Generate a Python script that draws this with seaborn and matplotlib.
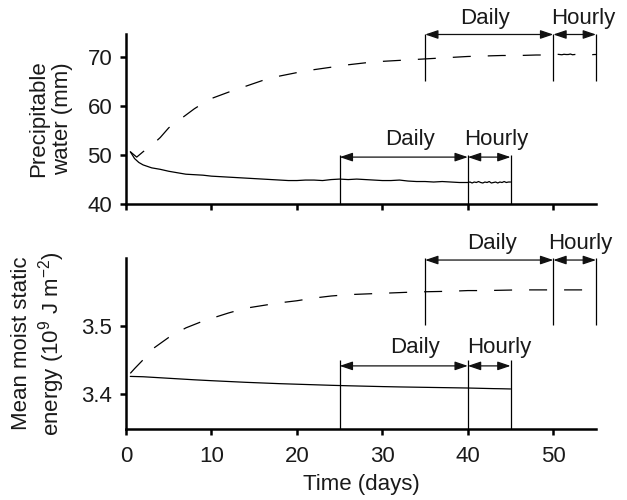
import matplotlib
matplotlib.use("Agg")
import matplotlib.pyplot as plt
import numpy as np
import pandas as pd
import seaborn as sns

# ---------------- data ----------------
# Precipitable water (mm), solid run: daily means then hourly output
pw_solid_days = [0.5, 1, 1.5, 2, 3, 4, 5, 6, 7, 8, 9, 10, 11, 12, 13, 14, 15, 16, 17, 18, 19, 20,
                 21, 22, 23, 24, 25, 26, 27, 28, 29, 30, 31, 32, 33, 34, 35, 36, 37, 38, 39, 40]
pw_solid_daily = [50.7, 49.3, 48.5, 48.0, 47.4, 47.1, 46.7, 46.4, 46.1, 46.0, 45.9, 45.7, 45.6, 45.5,
                  45.4, 45.3, 45.2, 45.1, 45.0, 44.9, 44.8, 44.8, 44.9, 44.9, 44.8, 45.0, 45.1, 45.0,
                  45.1, 45.0, 44.9, 44.8, 44.8, 44.9, 44.7, 44.6, 44.6, 44.5, 44.6, 44.5, 44.4, 44.4]
pw_solid_hours = [40.25, 40.5, 40.75, 41.0, 41.25, 41.5, 41.75, 42.0, 42.25, 42.5, 42.75, 43.0,
                  43.25, 43.5, 43.75, 44.0, 44.25, 44.5, 44.75, 45.0]
pw_solid_hourly = [44.5, 44.3, 44.5, 44.4, 44.6, 44.4, 44.3, 44.5, 44.4, 44.6, 44.3, 44.4,
                   44.5, 44.3, 44.5, 44.4, 44.6, 44.4, 44.5, 44.5]

# Precipitable water (mm), dashed run
pw_dash_days = [0.5, 1.25, 2, 3, 4, 5, 6, 7, 8, 9, 10, 12, 14, 16, 18, 20, 22, 24, 26, 28, 30,
                32, 34, 36, 38, 40, 42, 44, 46, 48, 50]
pw_dash_daily = [50.7, 49.6, 50.7, 52.0, 53.6, 55.6, 56.9, 58.2, 59.5, 60.6, 61.6, 62.9, 64.1,
                 65.3, 66.2, 66.9, 67.5, 68.0, 68.5, 68.9, 69.2, 69.4, 69.6, 69.8, 70.0, 70.2,
                 70.3, 70.4, 70.4, 70.5, 70.5]
pw_dash_hours = [50.25, 50.5, 50.75, 51.0, 51.25, 51.5, 51.75, 52.0, 52.25, 52.5, 52.75, 53.0,
                 53.25, 53.5, 53.75, 54.0, 54.25, 54.5, 54.75, 55.0]
pw_dash_hourly = [70.55, 70.65, 70.6, 70.55, 70.65, 70.6, 70.6, 70.7, 70.55, 70.6, 70.65, 70.6,
                  70.55, 70.65, 70.6, 70.6, 70.65, 70.55, 70.6, 70.6]

# Mean moist static energy (1e9 J m^-2), solid run
mse_solid_days = [0.5, 2, 4, 6, 8, 10, 12, 14, 16, 18, 20, 22, 24, 26, 28, 30, 32, 34, 36, 38, 40]
mse_solid_daily = [3.4255, 3.4250, 3.4235, 3.4220, 3.4205, 3.4192, 3.4180, 3.4168, 3.4158,
                   3.4148, 3.4140, 3.4132, 3.4124, 3.4117, 3.4111, 3.4105, 3.4100, 3.4096,
                   3.4092, 3.4088, 3.4084]
mse_solid_hours = [41, 42, 43, 44, 45]
mse_solid_hourly = [3.4081, 3.4078, 3.4075, 3.4073, 3.4070]

# Mean moist static energy, dashed run
mse_dash_days = [0.5, 1, 2, 3, 4, 5, 6, 7, 8, 9, 10, 12, 14, 16, 18, 20, 22, 24, 26, 28, 30,
                 32, 34, 36, 38, 40, 42, 44, 46, 48, 50]
mse_dash_daily = [3.430, 3.437, 3.450, 3.465, 3.474, 3.483, 3.490, 3.497, 3.502, 3.507, 3.511,
                  3.519, 3.526, 3.530, 3.534, 3.537, 3.541, 3.544, 3.546, 3.547, 3.548, 3.549,
                  3.550, 3.5505, 3.551, 3.552, 3.552, 3.5525, 3.553, 3.553, 3.553]
mse_dash_hours = [51, 52, 53, 54, 55]
mse_dash_hourly = [3.553, 3.553, 3.553, 3.553, 3.553]

x_ticks = [0, 10, 20, 30, 40, 50]
pw_ticks = [40, 50, 60, 70]
mse_ticks = [3.4, 3.5]
mse_ticklabels = ["3.4", "3.5"]

# output windows: (daily start, hourly start, end)
solid_window = (25, 40, 45)
dash_window = (35, 50, 55)


def frame(days, daily, hours, hourly, name):
    return pd.DataFrame({"time": list(days) + list(hours),
                         "value": list(daily) + list(hourly),
                         "run": name})


pw_df = pd.concat([frame(pw_solid_days, pw_solid_daily, pw_solid_hours, pw_solid_hourly, "solid"),
                   frame(pw_dash_days, pw_dash_daily, pw_dash_hours, pw_dash_hourly, "dashed")],
                  ignore_index=True)
mse_df = pd.concat([frame(mse_solid_days, mse_solid_daily, mse_solid_hours, mse_solid_hourly, "solid"),
                    frame(mse_dash_days, mse_dash_daily, mse_dash_hours, mse_dash_hourly, "dashed")],
                   ignore_index=True)

# ---------------- style ----------------
sns.set_theme(style="ticks")
plt.rcParams["font.family"] = ["Liberation Sans", "DejaVu Sans"]
plt.rcParams["mathtext.default"] = "regular"
plt.rcParams["axes.unicode_minus"] = True

LW = 0.9
FS = 16
TFS = 16
dash_styles = {"solid": "", "dashed": (14.4, 13.6)}

fig = plt.figure(figsize=(6.27, 5.0), dpi=100)
ax1 = fig.add_axes([0.201, 0.592, 0.7496, 0.34])
ax2 = fig.add_axes([0.201, 0.142, 0.7496, 0.342])

for ax, df in ((ax1, pw_df), (ax2, mse_df)):
    sns.lineplot(data=df, x="time", y="value", style="run", dashes=dash_styles,
                 color="black", linewidth=LW, sort=False, estimator=None,
                 legend=False, ax=ax)
    ax.set_xlim(0, 55)
    ax.set_xticks(x_ticks)
    sns.despine(ax=ax)
    for s in ("left", "bottom"):
        ax.spines[s].set_linewidth(1.8)
        ax.spines[s].set_color("black")
    ax.tick_params(axis="both", direction="out", length=4.5, width=1.8,
                   color="black", labelsize=TFS, pad=5.5, labelcolor="#1a1a1a")
    ax.tick_params(axis="x", pad=7.5)
    ax.grid(False)


def window(ax, xs, y_lo, y_hi, y_arrow, y_text, x_daily_txt, x_hourly_txt):
    ax.vlines(xs, y_lo, y_hi, color="black", linewidth=LW, clip_on=False)
    style = "<|-|>,head_length=0.65,head_width=0.22"
    for a, b in ((xs[0], xs[1]), (xs[1], xs[2])):
        ax.annotate("", xy=(b, y_arrow), xytext=(a, y_arrow), annotation_clip=False,
                    arrowprops=dict(arrowstyle=style, color="#111111", lw=LW,
                                    shrinkA=0, shrinkB=0))
    ax.text(x_daily_txt, y_text, "Daily", fontsize=FS, ha="center", va="center",
            color="#1a1a1a", clip_on=False)
    ax.text(x_hourly_txt, y_text, "Hourly", fontsize=FS, ha="center", va="center",
            color="#1a1a1a", clip_on=False)


# top panel
ax1.set_ylim(40, 74.8)
ax1.set_yticks(pw_ticks)
ax1.set_xticklabels([])
ax1.set_xlabel("")
ax1.set_ylabel("Precipitable\nwater (mm)", fontsize=FS, color="#1a1a1a")
ax1.yaxis.set_label_coords(-0.113, 0.5)
window(ax1, solid_window, 40, 50.0, 49.6, 53.3, 33.2, 43.3)
window(ax1, dash_window, 65.1, 74.9, 74.7, 78.0, 42.0, 53.5)

# bottom panel
ax2.set_ylim(3.348, 3.6)
ax2.set_yticks(mse_ticks)
ax2.set_yticklabels(mse_ticklabels)
ax2.set_xlabel("Time (days)", fontsize=FS, labelpad=5, color="#1a1a1a")
ax2.set_ylabel("Mean moist static\nenergy (10$^9$ J m$^{-2}$)", fontsize=FS, color="#1a1a1a")
ax2.yaxis.set_label_coords(-0.1255, 0.5)
window(ax2, solid_window, 3.348, 3.449, 3.441, 3.4676, 33.8, 43.7)
window(ax2, dash_window, 3.5015, 3.6, 3.597, 3.622, 42.8, 53.2)

fig.savefig("out.png", dpi=100)
